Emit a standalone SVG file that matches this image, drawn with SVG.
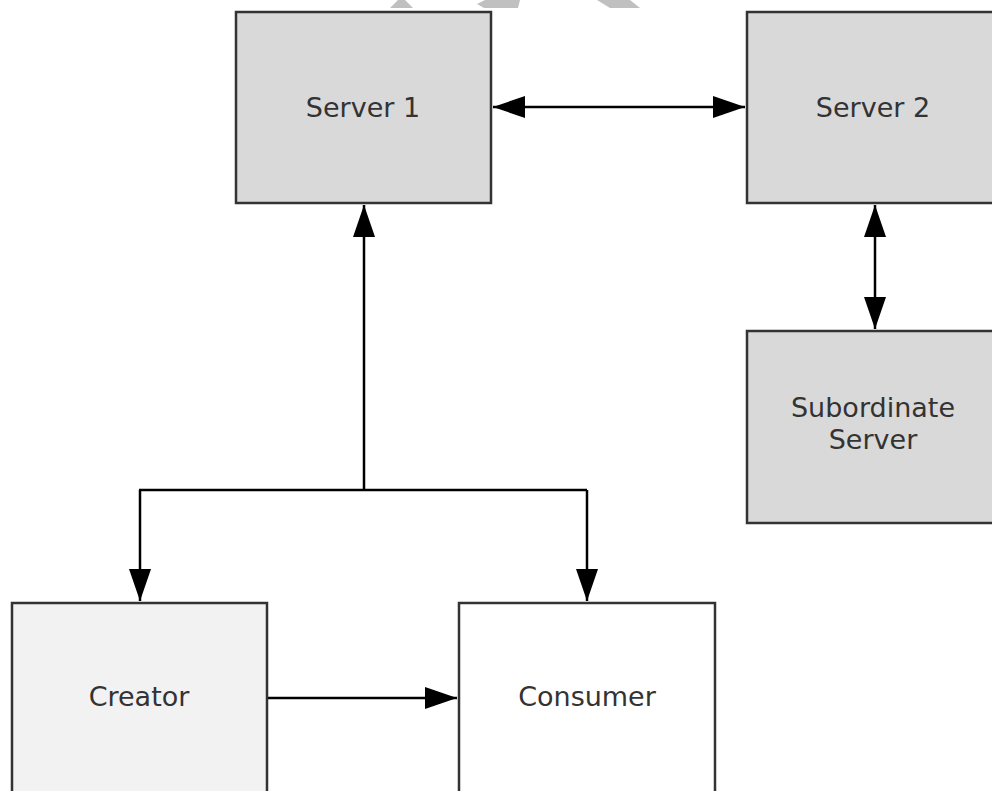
<svg xmlns="http://www.w3.org/2000/svg" width="992" height="791" viewBox="0 0 992 791">
<style>
.box{stroke:#333;stroke-width:2.5}
.srv{fill:#d9d9d9}
.lbl{font-family:"DejaVu Sans","Liberation Sans",sans-serif;font-size:27px;fill:#333;text-anchor:middle}
.cn{fill:none;stroke:#000;stroke-width:2.5}
.wm{fill:#c0c0c0}
</style>
<defs>
<marker id="ah" markerUnits="userSpaceOnUse" markerWidth="32" markerHeight="22" refX="32" refY="11" orient="auto-start-reverse" viewBox="0 0 32 22">
<path d="M0,0 L32,11 L0,22 z" fill="#000"/>
</marker>
</defs>
<rect width="992" height="791" fill="#fff"/>
<g id="watermark">
<polygon class="wm" points="390,8 398,0 405,0 413,8"/>
<polygon class="wm" points="477,4 485,0 520,0 518,8 484,8"/>
<polygon class="wm" points="597,0 630,0 640,8 610,8"/>
</g>
<g id="connectors">
<line class="cn" x1="493" y1="107" x2="745" y2="107" marker-start="url(#ah)" marker-end="url(#ah)"/>
<line class="cn" x1="875" y1="205" x2="875" y2="329" marker-start="url(#ah)" marker-end="url(#ah)"/>
<line class="cn" x1="364" y1="490" x2="364" y2="205" marker-end="url(#ah)"/>
<path class="cn" d="M139,490 H587"/>
<line class="cn" x1="140" y1="490" x2="140" y2="601" marker-end="url(#ah)"/>
<line class="cn" x1="587" y1="490" x2="587" y2="601" marker-end="url(#ah)"/>
<line class="cn" x1="267" y1="698" x2="457" y2="698" marker-end="url(#ah)"/>
</g>
<g id="server1">
<rect class="box srv" x="236" y="12" width="255" height="191"/>
<text class="lbl" x="363" y="117">Server 1</text>
</g>
<g id="server2">
<rect class="box srv" x="747" y="12" width="255" height="191"/>
<text class="lbl" x="873" y="117">Server 2</text>
</g>
<g id="subordinate">
<rect class="box srv" x="747" y="331" width="255" height="192"/>
<text class="lbl" x="873" y="417">Subordinate</text>
<text class="lbl" x="873" y="449">Server</text>
</g>
<g id="creator">
<rect class="box" fill="#f2f2f2" x="12" y="603" width="255" height="200"/>
<text class="lbl" x="139" y="706">Creator</text>
</g>
<g id="consumer">
<rect class="box" fill="#fff" x="459" y="603" width="256" height="200"/>
<text class="lbl" x="587" y="706">Consumer</text>
</g>
</svg>
